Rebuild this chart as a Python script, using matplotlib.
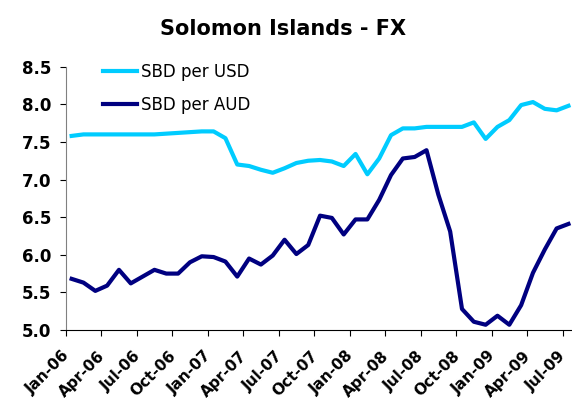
import matplotlib.pyplot as plt
import matplotlib.transforms as mtransforms

# Solomon Islands - FX, monthly Jan-06 .. Jul-09
title = "Solomon Islands - FX"
tick_labels = ["Jan-06", "Apr-06", "Jul-06", "Oct-06",
               "Jan-07", "Apr-07", "Jul-07", "Oct-07",
               "Jan-08", "Apr-08", "Jul-08", "Oct-08",
               "Jan-09", "Apr-09", "Jul-09"]

sbd_usd = [7.58, 7.60, 7.60, 7.60, 7.60, 7.60, 7.60, 7.60, 7.61, 7.62,
           7.63, 7.64, 7.64, 7.55, 7.20, 7.18, 7.13, 7.09, 7.15, 7.22,
           7.25, 7.26, 7.24, 7.18, 7.34, 7.07, 7.28, 7.59, 7.68, 7.68,
           7.70, 7.70, 7.70, 7.70, 7.76, 7.54, 7.70, 7.79, 7.99, 8.03,
           7.94, 7.92, 7.98]

sbd_aud = [5.68, 5.63, 5.52, 5.59, 5.80, 5.62, 5.71, 5.80, 5.75, 5.75,
           5.90, 5.98, 5.97, 5.91, 5.71, 5.95, 5.87, 5.99, 6.20, 6.01,
           6.13, 6.52, 6.49, 6.27, 6.47, 6.47, 6.73, 7.06, 7.28, 7.30,
           7.39, 6.80, 6.31, 5.28, 5.11, 5.07, 5.19, 5.07, 5.33, 5.76,
           6.07, 6.35, 6.41]

yticks = [5.0, 5.5, 6.0, 6.5, 7.0, 7.5, 8.0, 8.5]

fig = plt.figure(figsize=(5.72, 4.03), dpi=100)
ax = fig.add_axes([0.1149, 0.1811, 0.8851, 0.6534])

x = range(len(sbd_usd))
ax.plot(x, sbd_usd, color="#00CCFF", lw=3, label="SBD per USD")
ax.plot(x, sbd_aud, color="#000080", lw=3, label="SBD per AUD")

# 軸
ax.set_ylim(5.0, 8.5)
ax.set_yticks(yticks)
ax.set_yticklabels([f"{v:.1f}" for v in yticks], fontsize=12, fontweight="bold")
ax.set_xlim(-0.5, 42.3)
ax.set_xticks([-0.5 + 3 * k for k in range(len(tick_labels))])
ax.set_xticklabels(tick_labels, rotation=45, ha="right", rotation_mode="anchor",
                   fontsize=11, fontweight="bold")
ax.tick_params(axis="y", direction="out", length=4.3, width=0.8, pad=6)
ax.tick_params(axis="x", direction="out", length=4, width=0.8, pad=9)
# 標籤往左移一點
shift = mtransforms.ScaledTranslation(-4 / 100, 0, fig.dpi_scale_trans)
for lab in ax.get_xticklabels():
    lab.set_transform(lab.get_transform() + shift)
for s in ["top", "right"]:
    ax.spines[s].set_visible(False)
ax.spines["left"].set_color("#808080")
ax.spines["left"].set_linewidth(0.8)
ax.spines["bottom"].set_linewidth(0.8)

# 標題 / 圖例
fig.text(0.494, 1 - 28.7 / 403, title, ha="center", va="center",
         fontsize=15, fontweight="bold")
ax.legend(loc="upper left", bbox_to_anchor=(103 / 572, 1 - 63 / 403),
          bbox_transform=fig.transFigure, frameon=False, fontsize=12,
          handlelength=2.05, handletextpad=0.22, labelspacing=0.9,
          borderpad=0, borderaxespad=0)

fig.savefig("out.png", dpi=100)
